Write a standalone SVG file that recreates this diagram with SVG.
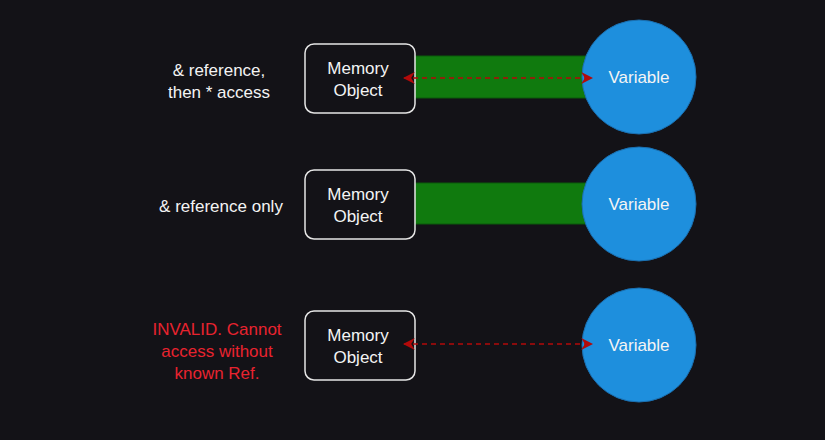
<svg xmlns="http://www.w3.org/2000/svg" width="825" height="440" viewBox="0 0 825 440">
<style>
text{font-family:"Liberation Sans",Arial,sans-serif;font-size:17px;text-anchor:middle;fill:#f4f4f4}
.red{fill:#e8232f}
.box{fill:#131217;stroke:#e6e6e6;stroke-width:1.5}
.bar{fill:#107a0e;stroke:#0b5a0a;stroke-width:1}
.circ{fill:#1e8fdd;stroke:#1a6fb0;stroke-width:1}
.ln{stroke:#b20a0a;stroke-width:1.5;stroke-dasharray:5 4;fill:none}
</style>
<defs>
<marker id="ah" viewBox="0 0 10 10" refX="9" refY="5" markerWidth="12" markerHeight="12" orient="auto-start-reverse" markerUnits="userSpaceOnUse">
<path d="M0,0 L10,5 L0,10 L3,5 Z" fill="#b20a0a"/>
</marker>
</defs>
<rect width="825" height="440" fill="#131217"/>
<g id="labels">
<text x="219" y="76">&amp; reference,</text>
<text x="219" y="98">then * access</text>
<text x="221" y="212">&amp; reference only</text>
<text class="red" x="217" y="335">INVALID. Cannot</text>
<text class="red" x="217" y="357">access without</text>
<text class="red" x="217" y="379">known Ref.</text>
</g>
<g id="bars">
<rect class="bar" x="412" y="56" width="178" height="42"/>
<rect class="bar" x="412" y="183" width="178" height="41"/>
</g>
<g id="mem1"><rect class="box" x="305" y="44" width="110" height="69" rx="9"/><text x="358" y="74">Memory</text><text x="358" y="96">Object</text></g>
<g id="mem2"><rect class="box" x="305" y="170" width="110" height="69" rx="9"/><text x="358" y="200">Memory</text><text x="358" y="222">Object</text></g>
<g id="mem3"><rect class="box" x="305" y="311" width="110" height="69" rx="9"/><text x="358" y="341">Memory</text><text x="358" y="363">Object</text></g>
<g id="var1"><circle class="circ" cx="639" cy="77" r="57"/><text x="639" y="83">Variable</text></g>
<g id="var2"><circle class="circ" cx="639" cy="204" r="57"/><text x="639" y="210">Variable</text></g>
<g id="var3"><circle class="circ" cx="639" cy="345" r="57"/><text x="639" y="351">Variable</text></g>
<g id="connectors">
<line class="ln" x1="404" y1="78" x2="592" y2="78" marker-start="url(#ah)" marker-end="url(#ah)"/>
<line class="ln" x1="404" y1="344" x2="592" y2="344" marker-start="url(#ah)" marker-end="url(#ah)"/>
</g>
</svg>
